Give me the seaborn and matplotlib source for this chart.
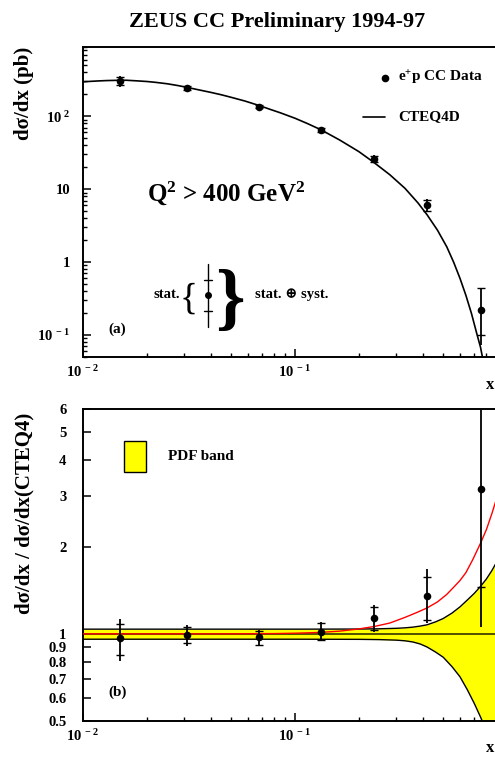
import numpy as np
import pandas as pd
import matplotlib
matplotlib.use("Agg")
import matplotlib.pyplot as plt
import matplotlib.ticker as mticker
from matplotlib.patches import Rectangle
import seaborn as sns

# ---- measured cross sections (ZEUS CC e+p, Q^2 > 400 GeV^2) ----
x_pts = [0.015, 0.031, 0.068, 0.133, 0.236, 0.42, 0.75]
sigma = [304.0, 246.0, 136.0, 65.6, 26.3, 6.0, 0.22]
stat_up = [37.0, 16.0, 7.5, 4.5, 2.4, 1.03, 0.22]
stat_dn = [37.0, 16.0, 7.5, 4.5, 2.4, 1.03, 0.12]
tot_up = [51.0, 21.0, 8.5, 5.0, 2.8, 1.45, 0.22]
tot_dn = [51.0, 21.0, 8.5, 5.0, 2.8, 1.15, 0.147]
cteq_at_pts = [315.0, 248.0, 140.0, 64.4, 23.2, 4.45, 0.069]

# ---- CTEQ4D prediction ----
cteq_x = [0.010, 0.011, 0.012, 0.013, 0.015, 0.016, 0.018, 0.020, 0.022, 0.025,
          0.028, 0.031, 0.035, 0.040, 0.045, 0.050, 0.058, 0.068, 0.076, 0.085,
          0.100, 0.115, 0.133, 0.163, 0.20, 0.236, 0.28, 0.33, 0.38, 0.42,
          0.47, 0.52, 0.56, 0.60, 0.64, 0.68, 0.72, 0.75, 0.78]
cteq_y = [297, 302, 306, 309, 312, 312, 306, 300, 292, 279,
          264, 249, 231, 213, 197, 182, 162, 140, 125, 112,
          94, 79, 65, 47, 32.8, 23.2, 15.8, 10.3, 6.5, 4.45,
          2.74, 1.62, 1.0, 0.6, 0.35, 0.197, 0.105, 0.068, 0.038]

# ---- modified high-x prediction, relative to CTEQ4 ----
red_x = [0.01, 0.05, 0.08, 0.10, 0.12, 0.133, 0.163, 0.20, 0.236, 0.28, 0.33,
         0.38, 0.42, 0.47, 0.52, 0.56, 0.60, 0.64, 0.69, 0.75, 0.80, 0.85,
         0.90, 0.95]
red_y = [1.0, 1.0, 1.002, 1.005, 1.009, 1.012, 1.022, 1.04, 1.06, 1.09, 1.14,
         1.19, 1.23, 1.29, 1.37, 1.45, 1.53, 1.63, 1.81, 2.06, 2.3, 2.62,
         3.0, 3.45]

# ---- PDF uncertainty band, relative to CTEQ4 ----
band_x = [0.01, 0.10, 0.20, 0.25, 0.30, 0.33, 0.36, 0.39, 0.42, 0.46, 0.50,
          0.55, 0.60, 0.65, 0.70, 0.75, 0.80, 0.85, 0.90, 0.95, 1.0]
band_hi = [1.038, 1.038, 1.039, 1.041, 1.045, 1.049, 1.055, 1.064, 1.075, 1.10,
           1.13, 1.18, 1.24, 1.31, 1.38, 1.46, 1.55, 1.66, 1.79, 1.95, 2.1]
band_lo = [0.958, 0.958, 0.957, 0.955, 0.951, 0.946, 0.937, 0.922, 0.90, 0.865,
           0.83, 0.77, 0.71, 0.64, 0.575, 0.515, 0.46, 0.41, 0.37, 0.33, 0.30]

top_yticks = [0.1, 1, 10, 100]
top_ylabels = [r"$10^{\ -1}$", "1", "10", r"$10^{\ 2}$"]
bot_yticks = [0.5, 0.6, 0.7, 0.8, 0.9, 1, 2, 3, 4, 5, 6]
bot_ylabels = ["0.5", "0.6", "0.7", "0.8", "0.9", "1", "2", "3", "4", "5", "6"]
xticks = [0.01, 0.1]
xlabels = [r"$10^{\ -2}$", r"$10^{\ -1}$"]

sns.set_theme(style="ticks")
plt.rcParams.update({
    "font.family": ["Liberation Serif", "DejaVu Serif"],
    "font.weight": "bold",
    "mathtext.fontset": "custom",
    "mathtext.rm": "Liberation Serif:bold",
    "mathtext.bf": "Liberation Serif:bold",
    "mathtext.it": "Liberation Serif:bold:italic",
    "mathtext.default": "bf",
    "axes.linewidth": 1.4,
    "axes.edgecolor": "black",
    "text.color": "black",
    "xtick.color": "black",
    "ytick.color": "black",
})

W, H = 495, 758
fig = plt.figure(figsize=(W / 100, H / 100), dpi=100)
fig.patch.set_facecolor("white")


def frac_box(left, top, right, bottom):
    return [left / W, 1 - bottom / H, (right - left) / W, (bottom - top) / H]


ax1 = fig.add_axes(frac_box(83, 46.7, 507, 357))
ax2 = fig.add_axes(frac_box(83, 409.3, 507, 720.7))

for ax in (ax1, ax2):
    ax.set_xscale("log")
    ax.set_yscale("log")
    ax.set_xlim(0.01, 1.0)
    ax.set_facecolor("white")
    for side in ("top", "right", "left", "bottom"):
        ax.spines[side].set_visible(True)
        ax.spines[side].set_color("black")
    ax.tick_params(which="both", direction="in", top=False, right=False,
                   labelsize=10.5, colors="black")
    ax.tick_params(which="major", length=6, width=1.1, pad=12)
    ax.tick_params(which="minor", length=3, width=1.0)
    ax.xaxis.set_major_locator(mticker.FixedLocator(xticks))
    ax.xaxis.set_major_formatter(mticker.FixedFormatter(xlabels))
    ax.xaxis.set_minor_locator(mticker.LogLocator(base=10, subs=np.arange(2, 10)))
    ax.xaxis.set_minor_formatter(mticker.NullFormatter())
    ax.tick_params(axis="x", which="major", pad=5)

# ---------------- upper panel: cross section ----------------
ax1.set_ylim(0.05, 900)
ax1.yaxis.set_major_locator(mticker.FixedLocator(top_yticks))
ax1.yaxis.set_major_formatter(mticker.FixedFormatter(top_ylabels))
ax1.yaxis.set_minor_locator(mticker.LogLocator(base=10, subs=np.arange(2, 10)))
ax1.yaxis.set_minor_formatter(mticker.NullFormatter())
ax1.tick_params(axis="y", which="major", pad=9)

df_cteq = pd.DataFrame({"x": cteq_x, "y": cteq_y})
sns.lineplot(data=df_cteq, x="x", y="y", ax=ax1, color="black", lw=1.2,
             sort=True, zorder=2)

df_pts = pd.DataFrame({"x": x_pts, "y": sigma})
ax1.errorbar(x_pts, sigma, yerr=[tot_dn, tot_up], fmt="none", ecolor="black",
             elinewidth=1.3, capsize=0, zorder=3)
ax1.errorbar(x_pts, sigma, yerr=[stat_dn, stat_up], fmt="none", ecolor="black",
             elinewidth=0, capsize=3.2, capthick=1.0, zorder=3)
sns.scatterplot(data=df_pts, x="x", y="y", ax=ax1, color="black", s=30,
                edgecolor="black", linewidth=0, zorder=4)
ax1.set_xlabel("")
ax1.set_ylabel("")

# legend
ax1.plot([0.712], [0.90], "o", color="black", ms=4.5, transform=ax1.transAxes)
ax1.text(0.743, 0.90, r"e$^{+}$p CC Data", transform=ax1.transAxes,
         fontsize=11, va="center", ha="left", fontweight="bold")
ax1.plot([0.660, 0.712], [0.774, 0.774], color="black", lw=1.2,
         transform=ax1.transAxes)
ax1.text(0.743, 0.774, "CTEQ4D", transform=ax1.transAxes,
         fontsize=11, va="center", ha="left", fontweight="bold")

ax1.text(0.151, 0.528, r"Q$^{2}$ > 400 GeV$^{2}$", transform=ax1.transAxes,
         fontsize=18, va="center", ha="left", fontweight="bold")
ax1.text(0.059, 0.09, "(a)", transform=ax1.transAxes, fontsize=11,
         va="center", ha="left", fontweight="bold")

# error convention key
kx = 0.295
ax1.plot([kx, kx], [0.0967, 0.2998], color="black", lw=1.0,
         transform=ax1.transAxes)
for ky in (0.148, 0.248):
    ax1.plot([kx - 0.0094, kx + 0.0094], [ky, ky], color="black", lw=1.0,
             transform=ax1.transAxes)
ax1.plot([kx], [0.1998], "o", color="black", ms=4, transform=ax1.transAxes)
ax1.text(0.229, 0.20, "stat.", transform=ax1.transAxes, fontsize=10.5,
         va="center", ha="right", fontweight="bold")
ax1.text(0.248, 0.20, "{", transform=ax1.transAxes, fontsize=27,
         va="center_baseline", ha="center", fontweight="normal")
ax1.text(0.347, 0.20, "}", transform=ax1.transAxes, fontsize=54,
         va="center_baseline", ha="center", fontweight="bold")
ax1.text(0.406, 0.20, "stat. \u2295 syst.", transform=ax1.transAxes,
         fontsize=10.5, va="center", ha="left", fontweight="bold")

# ---------------- lower panel: ratio to CTEQ4 ----------------
ax2.set_ylim(0.5, 6)
ax2.yaxis.set_major_locator(mticker.FixedLocator(bot_yticks))
ax2.yaxis.set_major_formatter(mticker.FixedFormatter(bot_ylabels))
ax2.yaxis.set_minor_locator(mticker.NullLocator())

ax2.fill_between(band_x, band_lo, band_hi, color="#ffff00", lw=0, zorder=1)
ax2.plot(band_x, band_hi, color="black", lw=1.0, zorder=2)
ax2.plot(band_x, band_lo, color="black", lw=1.0, zorder=2)
ax2.axhline(1.0, color="#333300", lw=1.2, zorder=2)

df_red = pd.DataFrame({"x": red_x, "y": red_y})
sns.lineplot(data=df_red, x="x", y="y", ax=ax2, color="red", lw=1.0,
             sort=True, zorder=3)

ratio = [s / c for s, c in zip(sigma, cteq_at_pts)]
r_stat = [[d / c for d, c in zip(stat_dn, cteq_at_pts)],
          [u / c for u, c in zip(stat_up, cteq_at_pts)]]
r_tot = [[d / c for d, c in zip(tot_dn, cteq_at_pts)],
         [u / c for u, c in zip(tot_up, cteq_at_pts)]]
ax2.errorbar(x_pts, ratio, yerr=r_tot, fmt="none", ecolor="black",
             elinewidth=1.3, capsize=0, zorder=4)
ax2.errorbar(x_pts, ratio, yerr=r_stat, fmt="none", ecolor="black",
             elinewidth=0, capsize=3.2, capthick=1.0, zorder=4)
df_ratio = pd.DataFrame({"x": x_pts, "y": ratio})
sns.scatterplot(data=df_ratio, x="x", y="y", ax=ax2, color="black", s=30,
                edgecolor="black", linewidth=0, zorder=5)
ax2.set_xlabel("")
ax2.set_ylabel("")

ax2.add_patch(Rectangle((0.0974, 0.798), 0.0506, 0.101, transform=ax2.transAxes,
                        facecolor="#ffff00", edgecolor="black", lw=1.0))
ax2.text(0.2, 0.847, "PDF band", transform=ax2.transAxes, fontsize=11,
         va="center", ha="left", fontweight="bold")
ax2.text(0.059, 0.092, "(b)", transform=ax2.transAxes, fontsize=11,
         va="center", ha="left", fontweight="bold")

# ---------------- figure texts ----------------
fig.text(277 / W, 1 - 22 / H, "ZEUS CC Preliminary 1994-97", fontsize=16,
         ha="center", va="center", fontweight="bold")
fig.text(24 / W, 1 - 93 / H, "d\u03c3/dx (pb)", rotation=90, fontsize=15,
         ha="center", va="center", fontweight="bold")
fig.text(24 / W, 1 - 513 / H, "d\u03c3/dx / d\u03c3/dx(CTEQ4)", rotation=90,
         fontsize=15, ha="center", va="center", fontweight="bold")
fig.text(494 / W, 1 - 385 / H, "x", fontsize=12, ha="right", va="center",
         fontweight="bold")
fig.text(494 / W, 1 - 748 / H, "x", fontsize=12, ha="right", va="center",
         fontweight="bold")

fig.savefig("out.png", dpi=100, facecolor="white")
